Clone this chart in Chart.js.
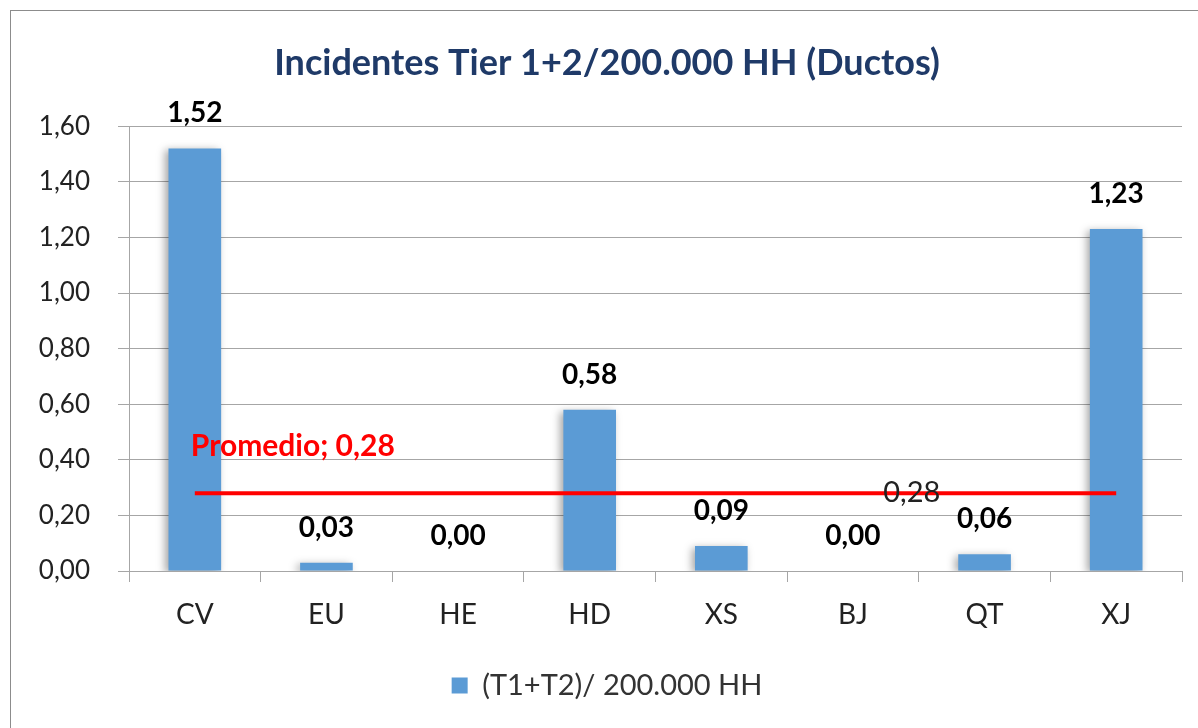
<!DOCTYPE html>
<html>
<head>
<meta charset="utf-8">
<script src="https://cdn.jsdelivr.net/npm/chart.js@4"></script>
<style>
  html, body { margin: 0; padding: 0; background: #fff; }
  #wrap { width: 1198px; height: 728px; }
</style>
</head>
<body>
<div id="wrap"><canvas id="incidentsChart"></canvas></div>
<script>
const categories = ['CV', 'EU', 'HE', 'HD', 'XS', 'BJ', 'QT', 'XJ'];
const rateValues = [1.52, 0.03, 0.00, 0.58, 0.09, 0.00, 0.06, 1.23];
const averageValues = [0.28, 0.28, 0.28, 0.28, 0.28, 0.28, 0.28, 0.28];
const yTicks = [0, 0.2, 0.4, 0.6, 0.8, 1.0, 1.2, 1.4, 1.6];

const fmt = v => v.toFixed(2).replace('.', ',');
const FONT = 'Lato, "Open Sans", sans-serif';

const chartFrame = {
    id: 'chartFrame',
    beforeDraw(chart) {
        const c = chart.ctx;
        c.save();
        c.strokeStyle = '#8c8c8c';
        c.lineWidth = 1;
        c.strokeRect(10.5, 10.5, 1200, 740);
        c.restore();
    }
};

const barShadow = {
    id: 'barShadow',
    beforeDatasetDraw(chart, args) {
        if (args.meta.type !== 'bar') return;
        const c = chart.ctx;
        c.save();
        c.shadowColor = 'rgba(0,0,0,0.35)';
        c.shadowBlur = 8;
        c.shadowOffsetX = -3;
        c.shadowOffsetY = 2;
    },
    afterDatasetDraw(chart, args) {
        if (args.meta.type !== 'bar') return;
        chart.ctx.restore();
    }
};

const valueLabels = {
    id: 'valueLabels',
    afterDatasetsDraw(chart) {
        const c = chart.ctx;
        const x = chart.scales.x;
        const y = chart.scales.y;
        c.save();
        c.textAlign = 'center';
        c.textBaseline = 'middle';
        c.font = 'bold 28px ' + FONT;
        c.fillStyle = '#000';
        const bars = chart.getDatasetMeta(1).data;
        bars.forEach((bar, i) => {
            c.fillText(fmt(rateValues[i]), bar.x, bar.y - 35);
        });
        // average line labels
        const ly = y.getPixelForValue(averageValues[0]);
        c.textAlign = 'left';
        c.fillStyle = '#ff0000';
        c.font = 'bold 30px ' + FONT;
        c.fillText('Promedio; ' + fmt(averageValues[0]), x.getPixelForValue(0) - 4, ly - 47);
        c.textAlign = 'center';
        c.font = '29px ' + FONT;
        c.fillStyle = '#222';
        const mid = (x.getPixelForValue(5) + x.getPixelForValue(6)) / 2 - 7;
        c.fillText(fmt(averageValues[5]), mid, ly - 1);
        c.restore();
    }
};

new Chart(document.getElementById('incidentsChart'), {
    data: {
        labels: categories,
        datasets: [{
            type: 'line',
            label: 'Promedio',
            data: averageValues,
            borderColor: '#ff0000',
            borderWidth: 4,
            pointRadius: 0,
            order: 0
        }, {
            type: 'bar',
            label: '(T1+T2)/ 200.000 HH',
            data: rateValues,
            backgroundColor: '#5b9bd5',
            categoryPercentage: 1,
            barPercentage: 0.4,
            order: 1
        }]
    },
    options: {
        responsive: true,
        maintainAspectRatio: false,
        animation: false,
        layout: { padding: { top: 0, left: 32, right: 16, bottom: 18 } },
        plugins: {
            tooltip: { enabled: false },
            title: {
                display: true,
                text: 'Incidentes Tier 1+2/200.000 HH (Ductos)',
                color: '#1f3a68',
                font: { family: FONT, size: 36, weight: 'bold' },
                padding: { top: 42, bottom: 41 }
            },
            legend: {
                position: 'bottom',
                labels: {
                    filter: item => item.datasetIndex === 1,
                    boxWidth: 16,
                    boxHeight: 16,
                    padding: 10,
                    color: '#333',
                    font: { family: FONT, size: 29 }
                }
            }
        },
        scales: {
            x: {
                grid: { offset: true, drawOnChartArea: false, tickLength: 11, color: '#a6a6a6' },
                border: { color: '#a6a6a6' },
                ticks: { color: '#222', padding: 16, font: { family: FONT, size: 28 } },
                afterFit(scale) { scale.height = 90; }
            },
            y: {
                min: 0,
                max: 1.6,
                afterBuildTicks(scale) { scale.ticks = yTicks.map(v => ({ value: v })); },
                grid: { color: '#a6a6a6', tickLength: 11 },
                border: { color: '#a6a6a6' },
                ticks: { color: '#222', padding: 28, callback: v => fmt(v), font: { family: FONT, size: 26 } },
                afterFit(scale) { scale.width = 97; }
            }
        }
    },
    plugins: [chartFrame, barShadow, valueLabels]
});
</script>
</body>
</html>
